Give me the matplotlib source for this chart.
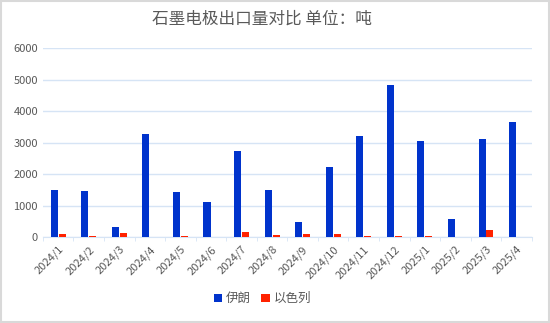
import numpy as np
import matplotlib.pyplot as plt

plt.rcParams['font.family'] = ['Noto Sans CJK SC', 'DejaVu Sans']

months = ['2024/1', '2024/2', '2024/3', '2024/4', '2024/5', '2024/6', '2024/7', '2024/8',
          '2024/9', '2024/10', '2024/11', '2024/12', '2025/1', '2025/2', '2025/3', '2025/4']
iran = [1500, 1460, 310, 3280, 1440, 1120, 2730, 1500, 490, 2210, 3210, 4820, 3050, 570, 3130, 3650]
israel = [110, 30, 130, 0, 30, 0, 160, 70, 110, 110, 30, 50, 30, 0, 210, 0]

fig = plt.figure(figsize=(5.5, 3.23), dpi=100)
ax = fig.add_axes([0.078, 0.266, 0.889, 0.585])

x = np.arange(len(months))
w = 0.23
ax.bar(x - 0.13, iran, w, color='#0033CC', label='伊朗', zorder=3)
ax.bar(x + 0.13, israel, w, color='#FF2200', label='以色列', zorder=3)

ax.set_xlim(-0.5, len(months) - 0.5)
ax.set_ylim(0, 6000)
ax.set_yticks(range(0, 6001, 1000))
ax.grid(axis='y', color='#D6E4F5', linewidth=1, zorder=0)
ax.set_xticks(x)
ax.set_xticklabels(months, rotation=45, ha='right', rotation_mode='anchor', fontsize=8, color='#595959')
ax.set_xticks(np.arange(-0.5, len(months), 1), minor=True)
ax.tick_params(axis='x', which='minor', length=3, color='#D6E4F5')
ax.tick_params(axis='y', labelsize=8, labelcolor='#595959', length=0)
ax.tick_params(axis='x', which='major', length=0, pad=5)
for s in ['top', 'right', 'left']:
    ax.spines[s].set_visible(False)
ax.spines['bottom'].set_color('#D6E4F5')

fig.text(0.477, 0.94, '石墨电极出口量对比 单位：吨', fontsize=12, color='#595959',
         ha='center', va='center')
fig.legend(loc='lower center', bbox_to_anchor=(0.477, 0.02), ncol=2, frameon=False,
           fontsize=9, handlelength=0.7, handleheight=0.7, handletextpad=0.3,
           columnspacing=0.8, labelcolor='#595959')

fig.patches.append(plt.Rectangle((0.002, 0.003), 0.996, 0.994, transform=fig.transFigure,
                                 fill=False, edgecolor='#D9D9D9', linewidth=1.5))
fig.savefig('out.png', dpi=100)
